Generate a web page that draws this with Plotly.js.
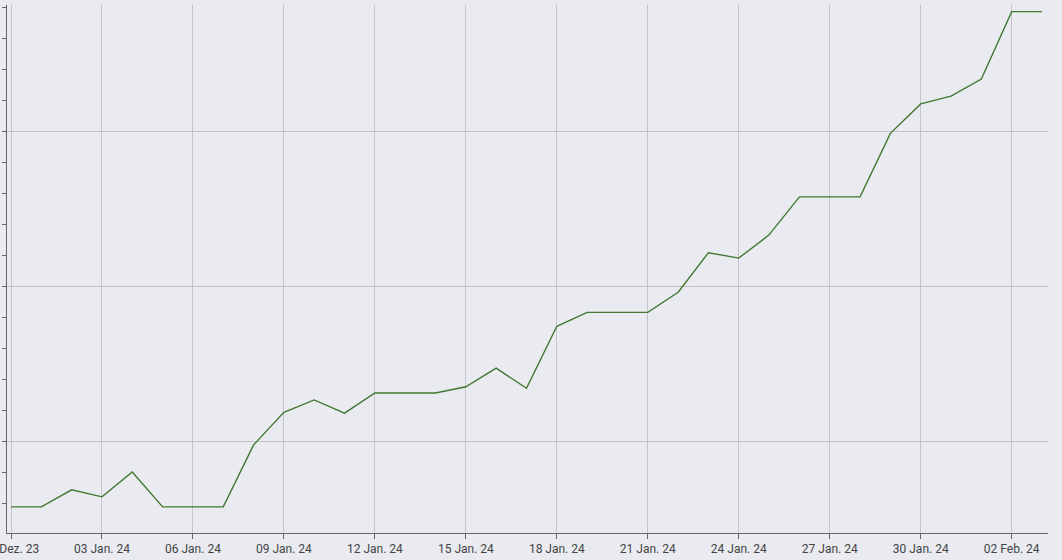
<!DOCTYPE html>
<html>
<head>
<meta charset="utf-8">
<script src="https://cdn.plot.ly/plotly-3.0.1.min.js"></script>
<style>html,body{margin:0;padding:0;background:#e9ebf0;}#chart{width:1062px;height:560px;}</style>
</head>
<body>
<div id="chart"></div>
<script>
const dates = [
  '2023-12-31','2024-01-01','2024-01-02','2024-01-03','2024-01-04','2024-01-05','2024-01-06',
  '2024-01-07','2024-01-08','2024-01-09','2024-01-10','2024-01-11','2024-01-12','2024-01-13',
  '2024-01-14','2024-01-15','2024-01-16','2024-01-17','2024-01-18','2024-01-19','2024-01-20',
  '2024-01-21','2024-01-22','2024-01-23','2024-01-24','2024-01-25','2024-01-26','2024-01-27',
  '2024-01-28','2024-01-29','2024-01-30','2024-01-31','2024-02-01','2024-02-02','2024-02-03'
];
const values = [
  11.5, 11.5, 13.7, 12.8, 16.0, 11.5, 11.5,
  11.5, 19.5, 23.7, 25.3, 23.6, 26.2, 26.2,
  26.2, 27.0, 29.4, 26.8, 34.8, 36.6, 36.6,
  36.6, 39.2, 44.3, 43.6, 46.6, 51.5, 51.5,
  51.5, 59.7, 63.5, 64.5, 66.7, 75.4, 75.4
];
const tickDates = ['2023-12-31','2024-01-03','2024-01-06','2024-01-09','2024-01-12','2024-01-15',
  '2024-01-18','2024-01-21','2024-01-24','2024-01-27','2024-01-30','2024-02-02'];
const tickLabels = ['31 Dez. 23','03 Jan. 24','06 Jan. 24','09 Jan. 24','12 Jan. 24','15 Jan. 24',
  '18 Jan. 24','21 Jan. 24','24 Jan. 24','27 Jan. 24','30 Jan. 24','02 Feb. 24'];

const trace = {
  x: dates, y: values, type: 'scatter', mode: 'lines',
  line: {color: '#41782f', width: 1.4},
  hoverinfo: 'skip'
};
const layout = {
  width: 1062, height: 560,
  margin: {l: 7, r: 14, t: 5, b: 27, pad: 0},
  paper_bgcolor: '#e9ebf0', plot_bgcolor: '#e9ebf0',
  showlegend: false,
  font: {family: 'Roboto, sans-serif', size: 12, color: '#444'},
  xaxis: {
    type: 'date',
    range: ['2023-12-30 20:50', '2024-02-03 04:45'],
    tickmode: 'array', tickvals: tickDates, ticktext: tickLabels,
    ticklabeloverflow: 'allow',
    showgrid: true, gridcolor: '#c4c5cb', gridwidth: 1,
    showline: true, linecolor: '#666', linewidth: 1,
    ticks: 'outside', ticklen: 5, tickcolor: '#666',
    zeroline: false, automargin: false,
    tickfont: {family: 'Roboto, sans-serif', size: 12, color: '#444'}
  },
  yaxis: {
    range: [8.13, 76.26],
    tickmode: 'linear', tick0: 0, dtick: 20,
    showgrid: true, gridcolor: '#c0c1c7', gridwidth: 1,
    showline: true, linecolor: '#666', linewidth: 1,
    ticks: 'outside', ticklen: 4, tickcolor: '#666',
    showticklabels: false, zeroline: false, automargin: false,
    minor: {dtick: 4, tick0: 0, ticks: 'outside', ticklen: 4, tickcolor: '#666', showgrid: false}
  }
};
Plotly.newPlot('chart', [trace], layout, {displayModeBar: false, staticPlot: true});
</script>
</body>
</html>
